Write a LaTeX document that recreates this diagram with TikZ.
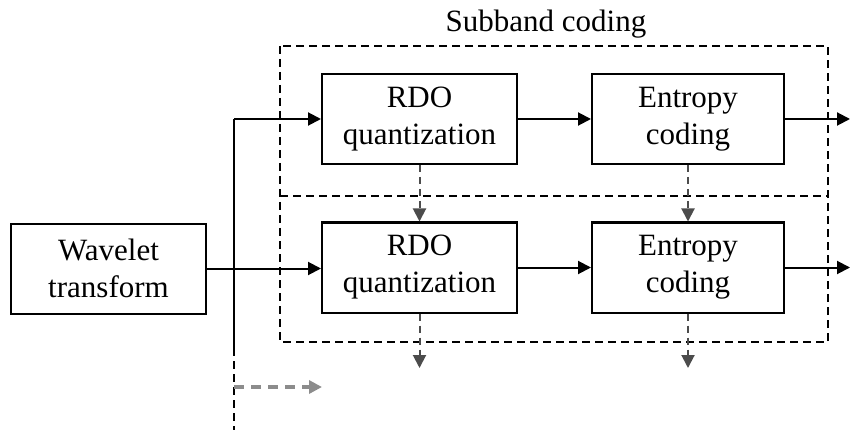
\documentclass[tikz,border=0pt]{standalone}
\usepackage{fontspec}
\setmainfont{Liberation Serif}
\usetikzlibrary{arrows.meta}
\begin{document}
\begin{tikzpicture}[x=1pt,y=-1pt,
  txt/.style={font=\fontsize{31}{37}\selectfont},
  blk/.style={txt,draw,line width=2pt,minimum width=195pt,minimum height=90pt,
    inner sep=0pt,align=center},
  tip/.style={-{Triangle[length=13pt,width=13pt]}},
  flow/.style={line width=2pt,tip},
  grp/.style={line width=2pt,dash pattern=on 8pt off 5pt},
  ctrl/.style={line width=2pt,dash pattern=on 7pt off 5pt,black!70,tip},
  side/.style={line width=4pt,dash pattern=on 10pt off 7pt,black!45,tip},
]
\useasboundingbox (0,0) rectangle (850,430);

% processing blocks
\node[blk] (wt) at (108.5,268.5) {Wavelet\\transform};
\node[blk] (q1) at (419.5,119) {RDO\\quantization};
\node[blk,minimum width=192pt] (e1) at (688,119) {Entropy\\coding};
\node[blk] (q2) at (419.5,267.5) {RDO\\quantization};
\node[blk,minimum width=192pt] (e2) at (688,267.5) {Entropy\\coding};

% subband groups: the outer frame and the divider of the lower band
\draw[grp] (280,46) rectangle (828,342);
\draw[grp] (280,196) -- (828,196);
\node[txt,anchor=base] (lbl) at (546,32) {Subband coding};

% distribution bus
\coordinate (sp) at (234,119);
\coordinate (spb) at (234,348);
\coordinate (bot) at (234,430);
\coordinate (g) at (234,387);
\coordinate (gend) at (322,387);
\coordinate (out) at (850,0);
\coordinate (q2d) at (419.5,368);
\coordinate (e2d) at (688,368);

\draw[line width=2pt] (sp) -- (spb);
\draw[grp] (spb) -- (bot);
\draw[flow] (sp) -- (q1.west);
\draw[flow] (wt.east) -- (wt.east -| q2.west);
\draw[side] (g) -- (gend);

% band chains
\draw[flow] (q1) -- (e1);
\draw[flow] (q2) -- (e2);
\draw[flow] (e1.east) -- (e1.east -| out);
\draw[flow] (e2.east) -- (e2.east -| out);

% context links between bands
\draw[ctrl] (q1.south) -- (q2.north);
\draw[ctrl] (e1.south) -- (e2.north);
\draw[ctrl] (q2.south) -- (q2d);
\draw[ctrl] (e2.south) -- (e2d);
\end{tikzpicture}
\end{document}
